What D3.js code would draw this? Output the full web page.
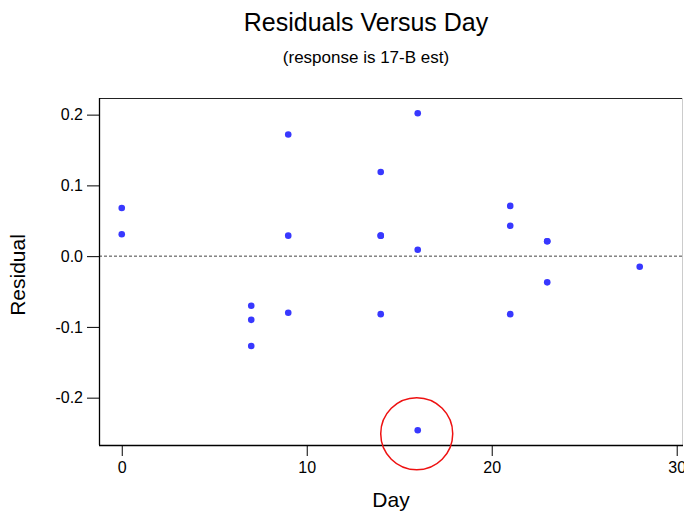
<!DOCTYPE html>
<html>
<head>
<meta charset="utf-8">
<script src="https://cdn.jsdelivr.net/npm/d3@7"></script>
<style>
  html, body { margin: 0; padding: 0; background: #fff; }
  svg { display: block; font-family: "Liberation Sans", Arial, sans-serif; }
</style>
</head>
<body>
<svg id="chart" width="684" height="512"></svg>
<script>
// ---- data ----
const days      = [0, 0, 7, 7, 7, 9, 9, 9, 14, 14, 14, 14, 16, 16, 16, 21, 21, 21, 23, 23, 23, 28];
const residuals = [0.068, 0.031, -0.070, -0.090, -0.127, 0.172, 0.029, -0.080, 0.119, 0.029, 0.029, -0.082,
                   0.202, 0.009, -0.246, 0.071, 0.043, -0.082, 0.021, 0.021, -0.037, -0.015];
const xTicks = [0, 10, 20, 30];
const yTicks = [0.2, 0.1, 0.0, -0.1, -0.2];
const outlier = { day: 16, residual: -0.251 };
const titleText = "Residuals Versus Day";
const subtitleText = "(response is 17-B est)";
const xLabel = "Day";
const yLabel = "Residual";

// ---- layout ----
const svg = d3.select("#chart");
const L = 99, R = 683, T = 98, B = 445;
const x = d3.scaleLinear().domain([-1.23, 30.34]).range([L, R]);
const y = d3.scaleLinear().domain([-0.2669, 0.2235]).range([B, T]);

// titles
svg.append("text").attr("x", 366).attr("y", 31).attr("text-anchor", "middle")
  .attr("font-size", 25).attr("fill", "#000").text(titleText);
svg.append("text").attr("x", 366).attr("y", 63).attr("text-anchor", "middle")
  .attr("font-size", 17).attr("fill", "#000").text(subtitleText);

// frame
svg.append("line").attr("x1", L).attr("x2", R).attr("y1", T + 0.5).attr("y2", T + 0.5)
  .attr("stroke", "#222").attr("stroke-width", 1.2);
svg.append("line").attr("x1", R - 0.5).attr("x2", R - 0.5).attr("y1", T).attr("y2", B)
  .attr("stroke", "#ccc").attr("stroke-width", 1);

// zero reference line
svg.append("line").attr("x1", L).attr("x2", R).attr("y1", y(0)).attr("y2", y(0))
  .attr("stroke", "#444").attr("stroke-width", 1).attr("stroke-dasharray", "3,2");

// axes
const fmt = d => d3.format(".1f")(d).replace("\u2212", "-");
const xAxis = svg.append("g").attr("transform", `translate(0,${B})`)
  .call(d3.axisBottom(x).tickValues(xTicks).tickSize(11).tickSizeOuter(0).tickPadding(6).tickFormat(d3.format("d")));
const yAxis = svg.append("g").attr("transform", `translate(${L},0)`)
  .call(d3.axisLeft(y).tickValues(yTicks).tickSize(12).tickSizeOuter(0).tickPadding(4).tickFormat(fmt));
[xAxis, yAxis].forEach(g => {
  g.select(".domain").attr("stroke", "#000").attr("stroke-width", 1.3);
  g.selectAll(".tick line").attr("stroke", "#000");
  g.selectAll(".tick text").attr("font-size", 16).attr("fill", "#000")
    .attr("font-family", "Liberation Sans, Arial, sans-serif");
});
xAxis.select(".domain").attr("d", `M${L},0.5H${R}`);
yAxis.select(".domain").attr("d", `M0.5,${T}V${B}`);

// axis labels
svg.append("text").attr("x", 391).attr("y", 507).attr("text-anchor", "middle")
  .attr("font-size", 21).attr("fill", "#000").text(xLabel);
svg.append("text").attr("transform", "translate(25,275) rotate(-90)").attr("text-anchor", "middle")
  .attr("font-size", 21).attr("fill", "#000").text(yLabel);

// points
svg.append("g").selectAll("circle").data(days.map((d, i) => [d, residuals[i]])).join("circle")
  .attr("cx", d => x(d[0])).attr("cy", d => y(d[1])).attr("r", 3.3)
  .attr("fill", "#3838ff");

// outlier annotation
svg.append("circle").attr("cx", x(outlier.day) - 1).attr("cy", y(outlier.residual)).attr("r", 36)
  .attr("fill", "none").attr("stroke", "#ee1111").attr("stroke-width", 1.5);
</script>
</body>
</html>
